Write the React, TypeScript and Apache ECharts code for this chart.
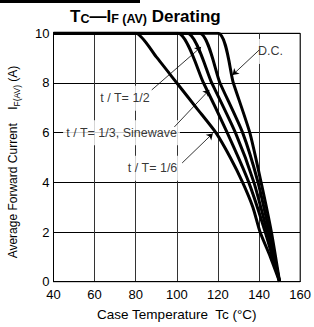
import React, { useEffect, useRef } from 'react';
import * as echarts from 'echarts';

// Axis ticks
const xTicks = [40, 60, 80, 100, 120, 140, 160];
const yTicks = [0, 2, 4, 6, 8, 10];

// Curves: case temperature (°C) vs average forward current (A)
const sixthTemp = [40, 80, 90, 100, 110, 119, 126, 132, 137, 140.5, 145.5, 150];
const sixthCurr = [10, 10, 9.05, 8, 6.95, 6, 5, 4, 3, 2, 1, 0];
const thirdTemp = [40, 100.5, 113, 124.5, 135, 143, 150];
const thirdCurr = [10, 10, 8, 6, 4, 2, 0];
const sineTemp = [40, 105, 117, 128.5, 137.5, 144, 150];
const sineCurr = [10, 10, 8, 6, 4, 2, 0];
const halfTemp = [40, 111, 121, 132, 139.5, 145, 150];
const halfCurr = [10, 10, 8, 6, 4, 2, 0];
const dcTemp = [40, 120, 127.5, 135.5, 141, 146, 150];
const dcCurr = [10, 10, 8, 6, 4, 2, 0];

// Annotation labels (data coordinates)
const labelTexts = ['t / T= 1/2', 't / T= 1/3, Sinewave', 't / T= 1/6', 'D.C.'];
const labelX = [74.8, 73.1, 88.2, 145.6];
const labelY = [7.39, 6.0, 4.57, 9.27];

// Arrows (data coordinates): from -> to
const arrowFromX = [87.8, 98.8, 102.6, 140.1];
const arrowFromY = [7.72, 6.23, 4.78, 9.33];
const arrowToX = [111.8, 115.8, 117.5, 127.1];
const arrowToY = [9.45, 7.72, 5.97, 8.32];

const FONT = '"Liberation Sans", Arial, Helvetica, sans-serif';

function zip(xs: number[], ys: number[]) {
  return xs.map((x, i) => [x, ys[i]]);
}

export default function App() {
  const ref = useRef<HTMLDivElement>(null);
  useEffect(() => {
    if (!ref.current) return;
    const chart = echarts.init(ref.current, undefined, { renderer: 'svg' });
    const curveSeries = [
      [sixthTemp, sixthCurr],
      [thirdTemp, thirdCurr],
      [sineTemp, sineCurr],
      [halfTemp, halfCurr],
      [dcTemp, dcCurr],
    ].map(([t, c]) => ({
      type: 'line',
      data: zip(t, c),
      showSymbol: false,
      smooth: 0.2,
      clip: true,
      lineStyle: { color: '#000', width: 3, join: 'round' },
      z: 5,
      silent: true,
    }));
    chart.setOption({
      animation: false,
      backgroundColor: '#fff',
      title: {
        left: 65,
        top: 3,
        text: '{b|T}{s|C}{b|—I}{s|F (AV)}{b| Derating}',
        textStyle: {
          rich: {
            b: { fontSize: 17, fontWeight: 'bold', fontFamily: FONT, color: '#000', verticalAlign: 'bottom' },
            s: { fontSize: 12.5, fontWeight: 'bold', fontFamily: FONT, color: '#000', verticalAlign: 'bottom' },
          },
        },
      },
      grid: {
        left: 53.5,
        right: 10.5,
        top: 33.3,
        bottom: 45.3,
        show: true,
        borderColor: '#000',
        borderWidth: 1,
        backgroundColor: 'transparent',
      },
      xAxis: {
        type: 'value',
        min: xTicks[0],
        max: xTicks[xTicks.length - 1],
        interval: 20,
        name: 'Case Temperature  Tc (°C)',
        nameLocation: 'middle',
        nameGap: 26,
        nameTextStyle: { fontSize: 13.5, fontFamily: FONT, color: '#000' },
        axisLine: { lineStyle: { color: '#000', width: 1 } },
        axisTick: { show: false },
        axisLabel: { fontSize: 13, fontFamily: FONT, color: '#000', margin: 6 },
        splitLine: { show: true, lineStyle: { color: '#333', width: 1 } },
      },
      yAxis: {
        type: 'value',
        min: yTicks[0],
        max: yTicks[yTicks.length - 1],
        interval: 2,
        axisLine: { show: true, lineStyle: { color: '#000', width: 1 } },
        axisTick: { show: false },
        axisLabel: { fontSize: 13, fontFamily: FONT, color: '#000', margin: 4 },
        splitLine: { show: true, lineStyle: { color: '#000', width: 1 } },
      },
      graphic: [
        {
          type: 'rect',
          shape: { x: 0, y: 0, width: 140, height: 3 },
          style: { fill: '#000' },
        },
        {
          type: 'text',
          x: 13,
          y: 162,
          rotation: Math.PI / 2,
          style: {
            text: '{a|Average Forward Current    I}{s|F(AV)}{a| (A)}',
            align: 'center',
            verticalAlign: 'middle',
            rich: {
              a: { fontSize: 12, fontFamily: FONT, fill: '#000', verticalAlign: 'bottom' },
              s: { fontSize: 8.5, fontFamily: FONT, fill: '#000', verticalAlign: 'bottom', padding: [0, 0, -2, 0] },
            },
          },
        },
      ],
      series: [
        ...curveSeries,
        {
          type: 'scatter',
          symbolSize: 0,
          z: 6,
          silent: true,
          data: labelTexts.map((t, i) => ({ value: [labelX[i], labelY[i]], name: t })),
          label: {
            show: true,
            position: 'inside',
            formatter: (p: any) => p.name,
            fontSize: 12.5,
            fontFamily: FONT,
            color: '#000',
            backgroundColor: '#fff',
            padding: [6, 3],
          },
        },
        {
          type: 'lines',
          coordinateSystem: 'cartesian2d',
          z: 7,
          silent: true,
          symbol: ['none', 'arrow'],
          symbolSize: 6,
          lineStyle: { color: '#000', width: 0.8, opacity: 1 },
          data: arrowFromX.map((x, i) => ({
            coords: [
              [x, arrowFromY[i]],
              [arrowToX[i], arrowToY[i]],
            ],
          })),
        },
      ],
    });
    return () => chart.dispose();
  }, []);
  return (
    <div
      ref={ref}
      style={{ position: 'fixed', left: 0, top: 0, width: 314, height: 327, background: '#fff' }}
    />
  );
}
